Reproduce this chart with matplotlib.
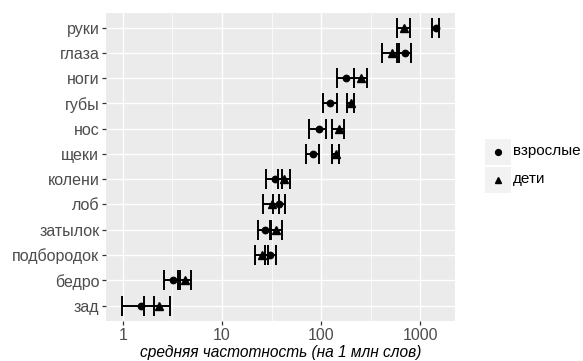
import matplotlib
matplotlib.use("Agg")
import matplotlib.pyplot as plt
import numpy as np
from matplotlib.patches import Rectangle
from matplotlib.lines import Line2D

plt.rcParams['font.family'] = ['Liberation Sans', 'DejaVu Sans']

categories = ["руки", "глаза", "ноги", "губы", "нос", "щеки", "колени", "лоб",
              "затылок", "подбородок", "бедро", "зад"]

adult_mean = [1430, 695, 178, 124, 94, 82.5, 34, 37.5, 27, 30.5, 3.2, 1.52]
adult_lo = [1315, 587, 143, 105, 75, 71, 28, 32.5, 23, 27, 2.6, 0.98]
adult_hi = [1545, 806, 212, 145, 112, 96, 40, 43, 31.5, 35, 3.8, 2.06]

child_mean = [685, 515, 253, 198, 150, 140, 42.5, 31.8, 35, 25.4, 4.25, 2.3]
child_lo = [583, 411, 215, 181, 129, 130, 36.5, 26, 30.5, 21.7, 3.6, 1.64]
child_hi = [787, 614, 292, 216, 171, 151, 49, 37.5, 40, 29.2, 4.9, 2.97]

series_labels = ["взрослые", "дети"]
x_ticks = [1, 10, 100, 1000]
x_tick_labels = ["1", "10", "100", "1000"]
x_title = "средняя частотность (на 1 млн слов)"

W, H = 583, 361
fig = plt.figure(figsize=(W / 100, H / 100), dpi=100)
pl, pr, pt, pb = 106, 455, 12.5, 320.7
ax = fig.add_axes([pl / W, 1 - pb / H, (pr - pl) / W, (pb - pt) / H])
ax.set_facecolor('#EBEBEB')
ax.set_xscale('log')

n = len(categories)
y = np.arange(n)[::-1]

markers = ['o', '^']
msizes = [4.6, 5.2]
for (mean, lo, hi), mk, ms in zip(
        [(adult_mean, adult_lo, adult_hi), (child_mean, child_lo, child_hi)],
        markers, msizes):
    mean = np.array(mean, float)
    lo = np.array(lo, float)
    hi = np.array(hi, float)
    ax.errorbar(mean, y, xerr=[mean - lo, hi - mean], fmt='none',
                ecolor='black', elinewidth=1.4, capsize=7.3, capthick=1.4,
                zorder=3)
    ax.plot(mean, y, marker=mk, ls='none', color='black', ms=ms, zorder=4)

all_lo = min(min(adult_lo), min(child_lo))
all_hi = max(max(adult_hi), max(child_hi))
l0, l1 = np.log10(all_lo), np.log10(all_hi)
ex = 0.05 * (l1 - l0)
ax.set_xlim(10 ** (l0 - ex), 10 ** (l1 + ex))
ax.set_ylim(-0.6, n - 1 + 0.6)

ax.set_xticks(x_ticks)
ax.set_xticklabels(x_tick_labels)
ax.set_xticks([10 ** 0.5, 10 ** 1.5, 10 ** 2.5], minor=True)
ax.set_yticks(y)
ax.set_yticklabels(categories)

ax.grid(True, which='major', color='white', lw=1.0, zorder=0)
ax.grid(True, which='minor', axis='x', color='white', lw=0.5, zorder=0)
ax.set_axisbelow(True)
for s in ax.spines.values():
    s.set_visible(False)
ax.tick_params(axis='both', which='major', length=2.8, width=0.9,
               color='#333333', labelcolor='#4D4D4D', labelsize=11.5, pad=2)
ax.tick_params(axis='x', which='major', pad=2.5)
ax.tick_params(axis='x', which='minor', length=0)

ax.set_xlabel(x_title, style='italic', fontsize=11.2, color='black', labelpad=1.5)

# legend (ggplot style keys with grey background)
def px(x, yy):
    return x / W, 1 - yy / H

key_x0, key_w, key_h = 485, 26, 26
key_tops = [138.5, 166.5]
for top, mk, ms, lab in zip(key_tops, markers, [4.2, 4.8], series_labels):
    x0, y0 = px(key_x0, top + key_h)
    fig.patches.append(Rectangle((x0, y0), key_w / W, key_h / H,
                                 transform=fig.transFigure, facecolor='#F2F2F2',
                                 edgecolor='none'))
    cx, cy = px(key_x0 + key_w / 2, top + key_h / 2)
    fig.lines.append(Line2D([cx], [cy], marker=mk, color='black', ms=ms,
                            ls='none', transform=fig.transFigure))
    tx, ty = px(key_x0 + key_w + 2, top + key_h / 2)
    fig.text(tx, ty, lab, ha='left', va='center', fontsize=11, color='black')

fig.savefig('out.png', dpi=100)
